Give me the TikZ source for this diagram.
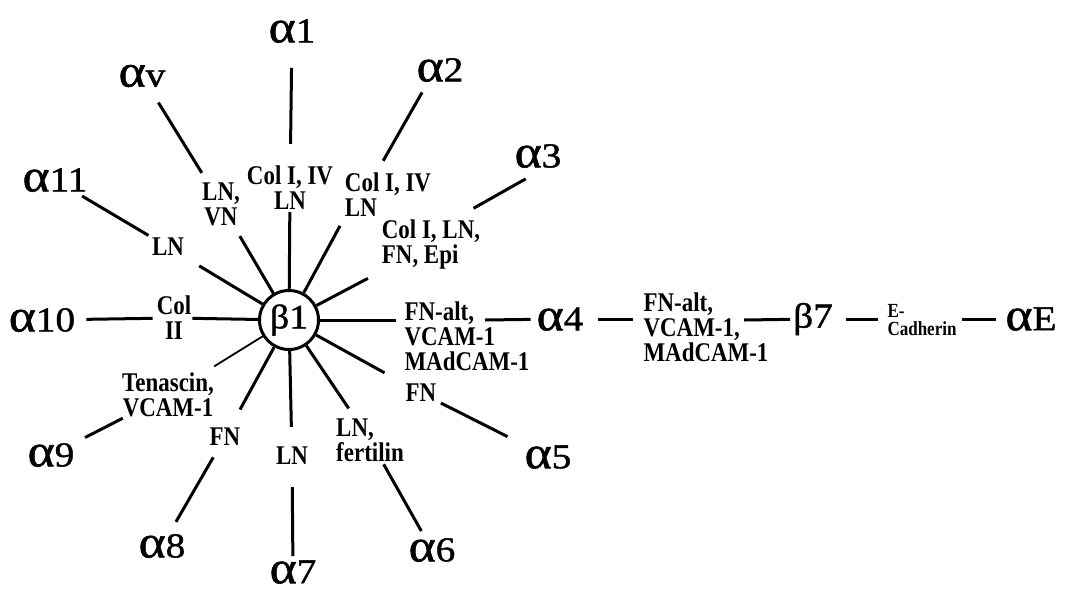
\documentclass[tikz,border=0pt]{standalone}
\usepackage{fontspec}
\setmainfont{Liberation Serif}
\newfontfamily\bigfont[FakeStretch=1.12,FakeBold=1.2]{Liberation Serif}
\newfontfamily\lblfont[FakeStretch=0.85]{Liberation Serif}
\newcommand{\alf}{{\fontsize{46}{46}\selectfont α}}
\tikzset{
  integrin/.style={font={\bigfont\fontsize{35}{35}\selectfont}, inner sep=0pt},
  ligand/.style={font={\lblfont\bfseries\fontsize{27}{25}\selectfont}, inner sep=0pt, align=center},
  spoke/.style={line width=3pt},
}
\begin{document}
\begin{tikzpicture}[x=1pt,y=-1pt]
\useasboundingbox (0,0) rectangle (1067,592);

% beta1 hub
\node[circle,draw,line width=3pt,minimum size=59pt,inner sep=0pt,
      font={\bigfont\fontsize{34}{34}\selectfont}] (b1) at (289,320) {β1};

% alpha subunits
\node[integrin] (a1) at (292,31) {\alf1};
\node[integrin] (a2) at (440,70) {\alf2};
\node[integrin] (a3) at (538,156) {\alf3};
\node[integrin] (a4) at (560,319) {\alf4};
\node[integrin] (a5) at (548,457) {\alf5};
\node[integrin] (a6) at (432,550) {\alf6};
\node[integrin] (a7) at (293,572) {\alf7};
\node[integrin] (a8) at (162,546) {\alf8};
\node[integrin] (a9) at (51,455) {\alf9};
\node[integrin] (a10) at (42,320) {\alf10};
\node[integrin] (a11) at (55,180) {\alf11};
\node[integrin] (av) at (142,76) {\alf v};

% ligands
\node[ligand] (l1) at (290,188) {Col I, IV\\LN};
\node[ligand,align=left] (l2) at (388,195) {Col I, IV\\LN};
\node[ligand,align=left] (l3) at (431,245) {Col I, LN,\\FN, Epi};
\node[ligand,align=left] (l4) at (467,336) {FN-alt,\\VCAM-1\\MAdCAM-1};
\node[ligand] (l5) at (421,393) {FN};
\node[ligand,align=left] (l6) at (370,440) {LN,\\fertilin};
\node[ligand] (l7) at (292,456) {LN};
\node[ligand] (l8) at (225,437) {FN};
\node[ligand] (l9) at (168,395) {Tenascin,\\VCAM-1};
\node[ligand] (l10) at (174,318) {Col\\II};
\node[ligand] (l11) at (168,247) {LN};
\node[ligand] (lv) at (221,204) {LN,\\VN};

% spokes
\draw[spoke,shorten >=2pt] (b1) -- (l1);
\draw[spoke,shorten <=22pt,shorten >=25pt] (l1) -- (a1);
\draw[spoke,shorten >=10pt] (b1) -- (l2.south west);
\draw[spoke,shorten <=14pt,shorten >=12pt] (l2.118) -- (a2.-135);
\draw[spoke,shorten >=18pt] (b1) -- (l3);
\draw[spoke,shorten <=24pt,shorten >=22pt] (l3.49) -- (a3.-60);
\draw[spoke,shorten >=8pt] (b1) -- (l4.west |- b1);
\draw[spoke,shorten >=24pt] (b1) -- (l5);
\draw[spoke,shorten <=5pt,shorten >=19pt] (l5) -- (a5);
\draw[spoke,shorten >=12pt] (b1) -- (l6);
\draw[spoke,shorten <=3pt,shorten >=8pt] (l6) -- (a6);
\draw[spoke,shorten >=20pt] (b1) -- (l7);
\draw[spoke,shorten <=22pt,shorten >=4pt] (l7) -- (a7);
\draw[spoke,shorten >=21pt] (b1) -- (l8);
\draw[spoke,shorten <=13pt,shorten >=14pt] (l8) -- (a8);
\draw[line width=1.8pt,shorten >=12pt] (b1) -- (l9);
\draw[spoke,shorten <=2pt,shorten >=12pt] (l9) -- (a9);
\draw[spoke,shorten >=1pt] (b1) -- (l10);
\draw[spoke,shorten <=4pt,shorten >=11pt] (l10) -- (a10);
\draw[spoke,shorten >=19pt] (b1) -- (l11);
\draw[spoke,shorten <=5pt,shorten >=8pt] (l11) -- (a11);
\draw[spoke,shorten >=12pt] (b1) -- (lv);
\draw[spoke,shorten <=11pt,shorten >=18pt] (lv) -- (av);

% alpha4 / beta7 / alphaE chain
\coordinate (l4r) at (485,320);
\node[ligand,align=left] (l47) at (706,327) {FN-alt,\\VCAM-1,\\MAdCAM-1};
\coordinate (l47r) at (744,320);
\node[integrin] (b7) at (813,319) {β7};
\node[ligand,align=left,font={\lblfont\bfseries\fontsize{20}{18}\selectfont}] (lE) at (922,320) {E-\\Cadherin};
\node[integrin] (aE) at (1031,319) {\alf E};

\draw[spoke,shorten >=6pt] (l4r) -- (a4);
\draw[spoke,shorten <=14pt,shorten >=10pt] (a4) -- (l47.west |- a4);
\draw[spoke,shorten >=3pt] (l47r) -- (b7);
\draw[spoke,shorten <=13pt,shorten >=9pt] (b7) -- (lE.west |- b7);
\draw[spoke,shorten <=5pt,shorten >=9pt] (lE.east |- aE) -- (aE);

\end{tikzpicture}
\end{document}
